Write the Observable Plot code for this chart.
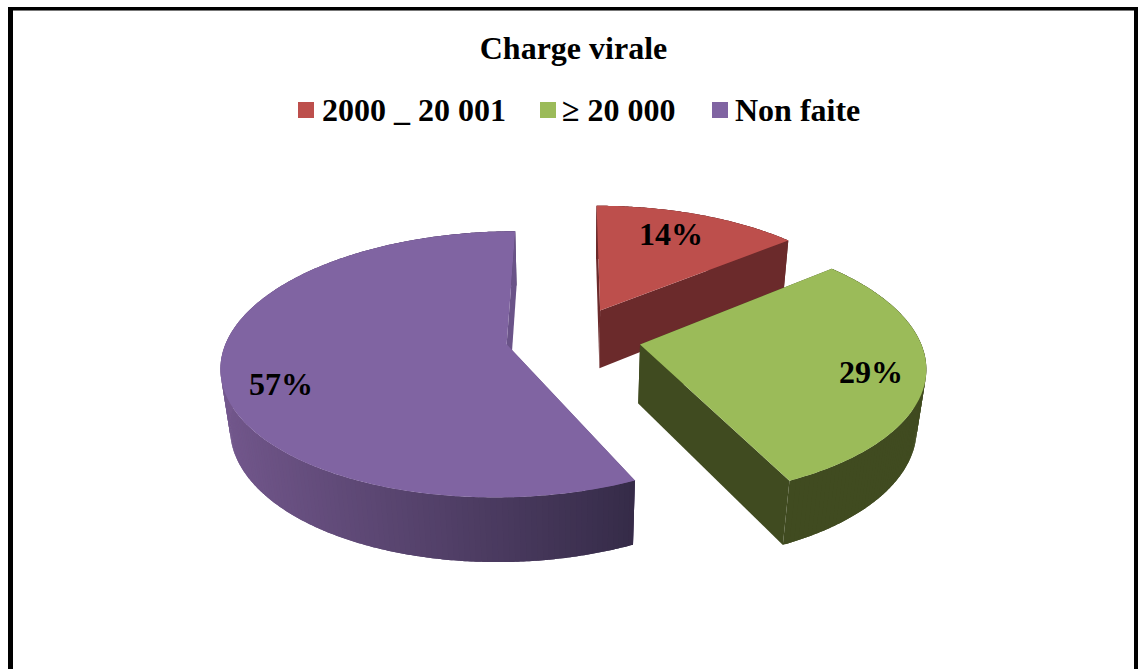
<!DOCTYPE html>
<html>
<head>
<meta charset="utf-8">
<script src="https://cdn.jsdelivr.net/npm/d3@7"></script>
<script src="https://cdn.jsdelivr.net/npm/@observablehq/plot@0.6"></script>
<style>
html,body{margin:0;padding:0;background:#fff;width:1138px;height:669px;overflow:hidden}
#frame{position:absolute;left:8px;top:7px;right:0;height:720px;box-sizing:border-box;border:solid #000;border-width:3px 4px 0 5px;box-shadow:inset 0 1px 0 #777;pointer-events:none}
#head{position:relative;height:140px;font:bold 32px "Liberation Serif",serif;color:#000}
#head span{position:absolute;white-space:nowrap;line-height:36px}
#head i{position:absolute;width:16px;height:16px;top:102px}
#chart svg{display:block}
</style>
</head>
<body>
<div id="head"></div>
<div id="chart"></div>
<div id="frame"></div>
<script>
const title = "Charge virale";
const categories = ["2000 _ 20 001", "≥ 20 000", "Non faite"];
const percents = [14, 29, 57];
const topColors = ["#bd4f4c", "#9bbb59", "#8064a2"];
const sideColors = ["#6b2a2b", "#404b20", "#6a5388"];
const rimDark = "#2e2640", rimLight = "#75598f";

// legend + title above the SVG
const legendSwatchX = [298, 540, 712], legendTextX = [322, 562, 735];
const head = document.getElementById("head");
const t = document.createElement("span");
t.textContent = title; t.style.left = "0"; t.style.width = "1147px"; t.style.textAlign = "center"; t.style.top = "30px";
head.append(t);
categories.forEach((c, i) => {
  const sw = document.createElement("i");
  sw.style.left = legendSwatchX[i] + "px"; sw.style.background = topColors[i];
  const s = document.createElement("span");
  s.textContent = c; s.style.left = legendTextX[i] + "px"; s.style.top = "92px";
  head.append(sw, s);
});

// camera of the tilted, exploded 3D pie
const cx = 572, cy = 337, S = 279, T = 128, H = 60.5, p = 0.15, q = 0.027;
const explode = [0.24, 0.246, 0.24];
const project = (u, v, d) => {
  const w = 1 + p * v + q * d;
  return [cx + S * u / w, cy - (T * v - H * d) / w];
};
const rad = a => a * Math.PI / 180;
const total = d3.sum(percents);
let acc = 0;
const slices = percents.map((v, i) => {
  const a0 = acc / total * 360; acc += v; const a1 = acc / total * 360;
  const mid = (a0 + a1) / 2;
  return {i, a0, a1, mid, ox: explode[i] * Math.sin(rad(mid)), oy: explode[i] * Math.cos(rad(mid))};
});

const rows = [];
let shape = 0;
const poly = (pts, color) => {
  shape++;
  for (const [x, y] of [...pts, pts[0]]) rows.push({x, y, shape, color});
};
const rimShade = u => d3.interpolateRgb(rimLight, rimDark)(Math.max(0, Math.min(1, Math.pow((u + 1.05) / 1.6, 1.15))));
for (const s of slices) {
  const at = (a, d) => project(s.ox + Math.sin(rad(a)), s.oy + Math.cos(rad(a)), d);
  const apex = d => project(s.ox, s.oy, d);
  // far cut face
  poly([apex(0), at(s.a0, 0), at(s.a0, 1), apex(1)], sideColors[s.i]);
  // outer rim: facets, each overlapping the previous one so no seam shows
  const angles = d3.range(s.a0, s.a1, 1).concat(s.a1);
  for (let k = 0; k < angles.length - 1; k++) {
    const a = Math.max(s.a0, angles[k] - 1), b = angles[k + 1];
    const as = d3.range(a, b, 0.5).concat(b);
    const c = s.i === 2 ? rimShade(Math.sin(rad((angles[k] + b) / 2))) : sideColors[s.i];
    poly([...as.map(x => at(x, 0)), ...as.slice().reverse().map(x => at(x, 1))], c);
  }
  // near cut face
  poly([apex(0), at(s.a1, 0), at(s.a1, 1), apex(1)], sideColors[s.i]);
  // top face
  poly([apex(0), ...d3.range(s.a0, s.a1, 1).concat(s.a1).map(a => at(a, 0))], topColors[s.i]);
}

// where each percentage sits on its slice
const labelRadius = [0.759, 0.815, 0.812], labelTurn = [-2, 2.2, -8.8];
const labels = slices.map(s => {
  const a = s.mid + labelTurn[s.i], r = labelRadius[s.i];
  const [x, y] = project(s.ox + r * Math.sin(rad(a)), s.oy + r * Math.cos(rad(a)), 0);
  return {x, y, text: percents[s.i] + "%"};
});

const plot = Plot.plot({
  width: 1138, height: 529, margin: 0,
  x: {domain: [0, 1138], range: [0, 1138], axis: null},
  y: {domain: [140, 669], range: [0, 529], axis: null},
  color: {type: "identity"},
  style: {background: "transparent"},
  marks: [
    Plot.line(rows, {x: "x", y: "y", z: "shape", fill: "color", stroke: "none", curve: "linear"}),
    Plot.text(labels, {x: "x", y: "y", text: "text", fontSize: 32, fontWeight: "bold", fontFamily: "Liberation Serif", fill: "#000"})
  ]
});
document.getElementById("chart").append(plot);
</script>
</body>
</html>
